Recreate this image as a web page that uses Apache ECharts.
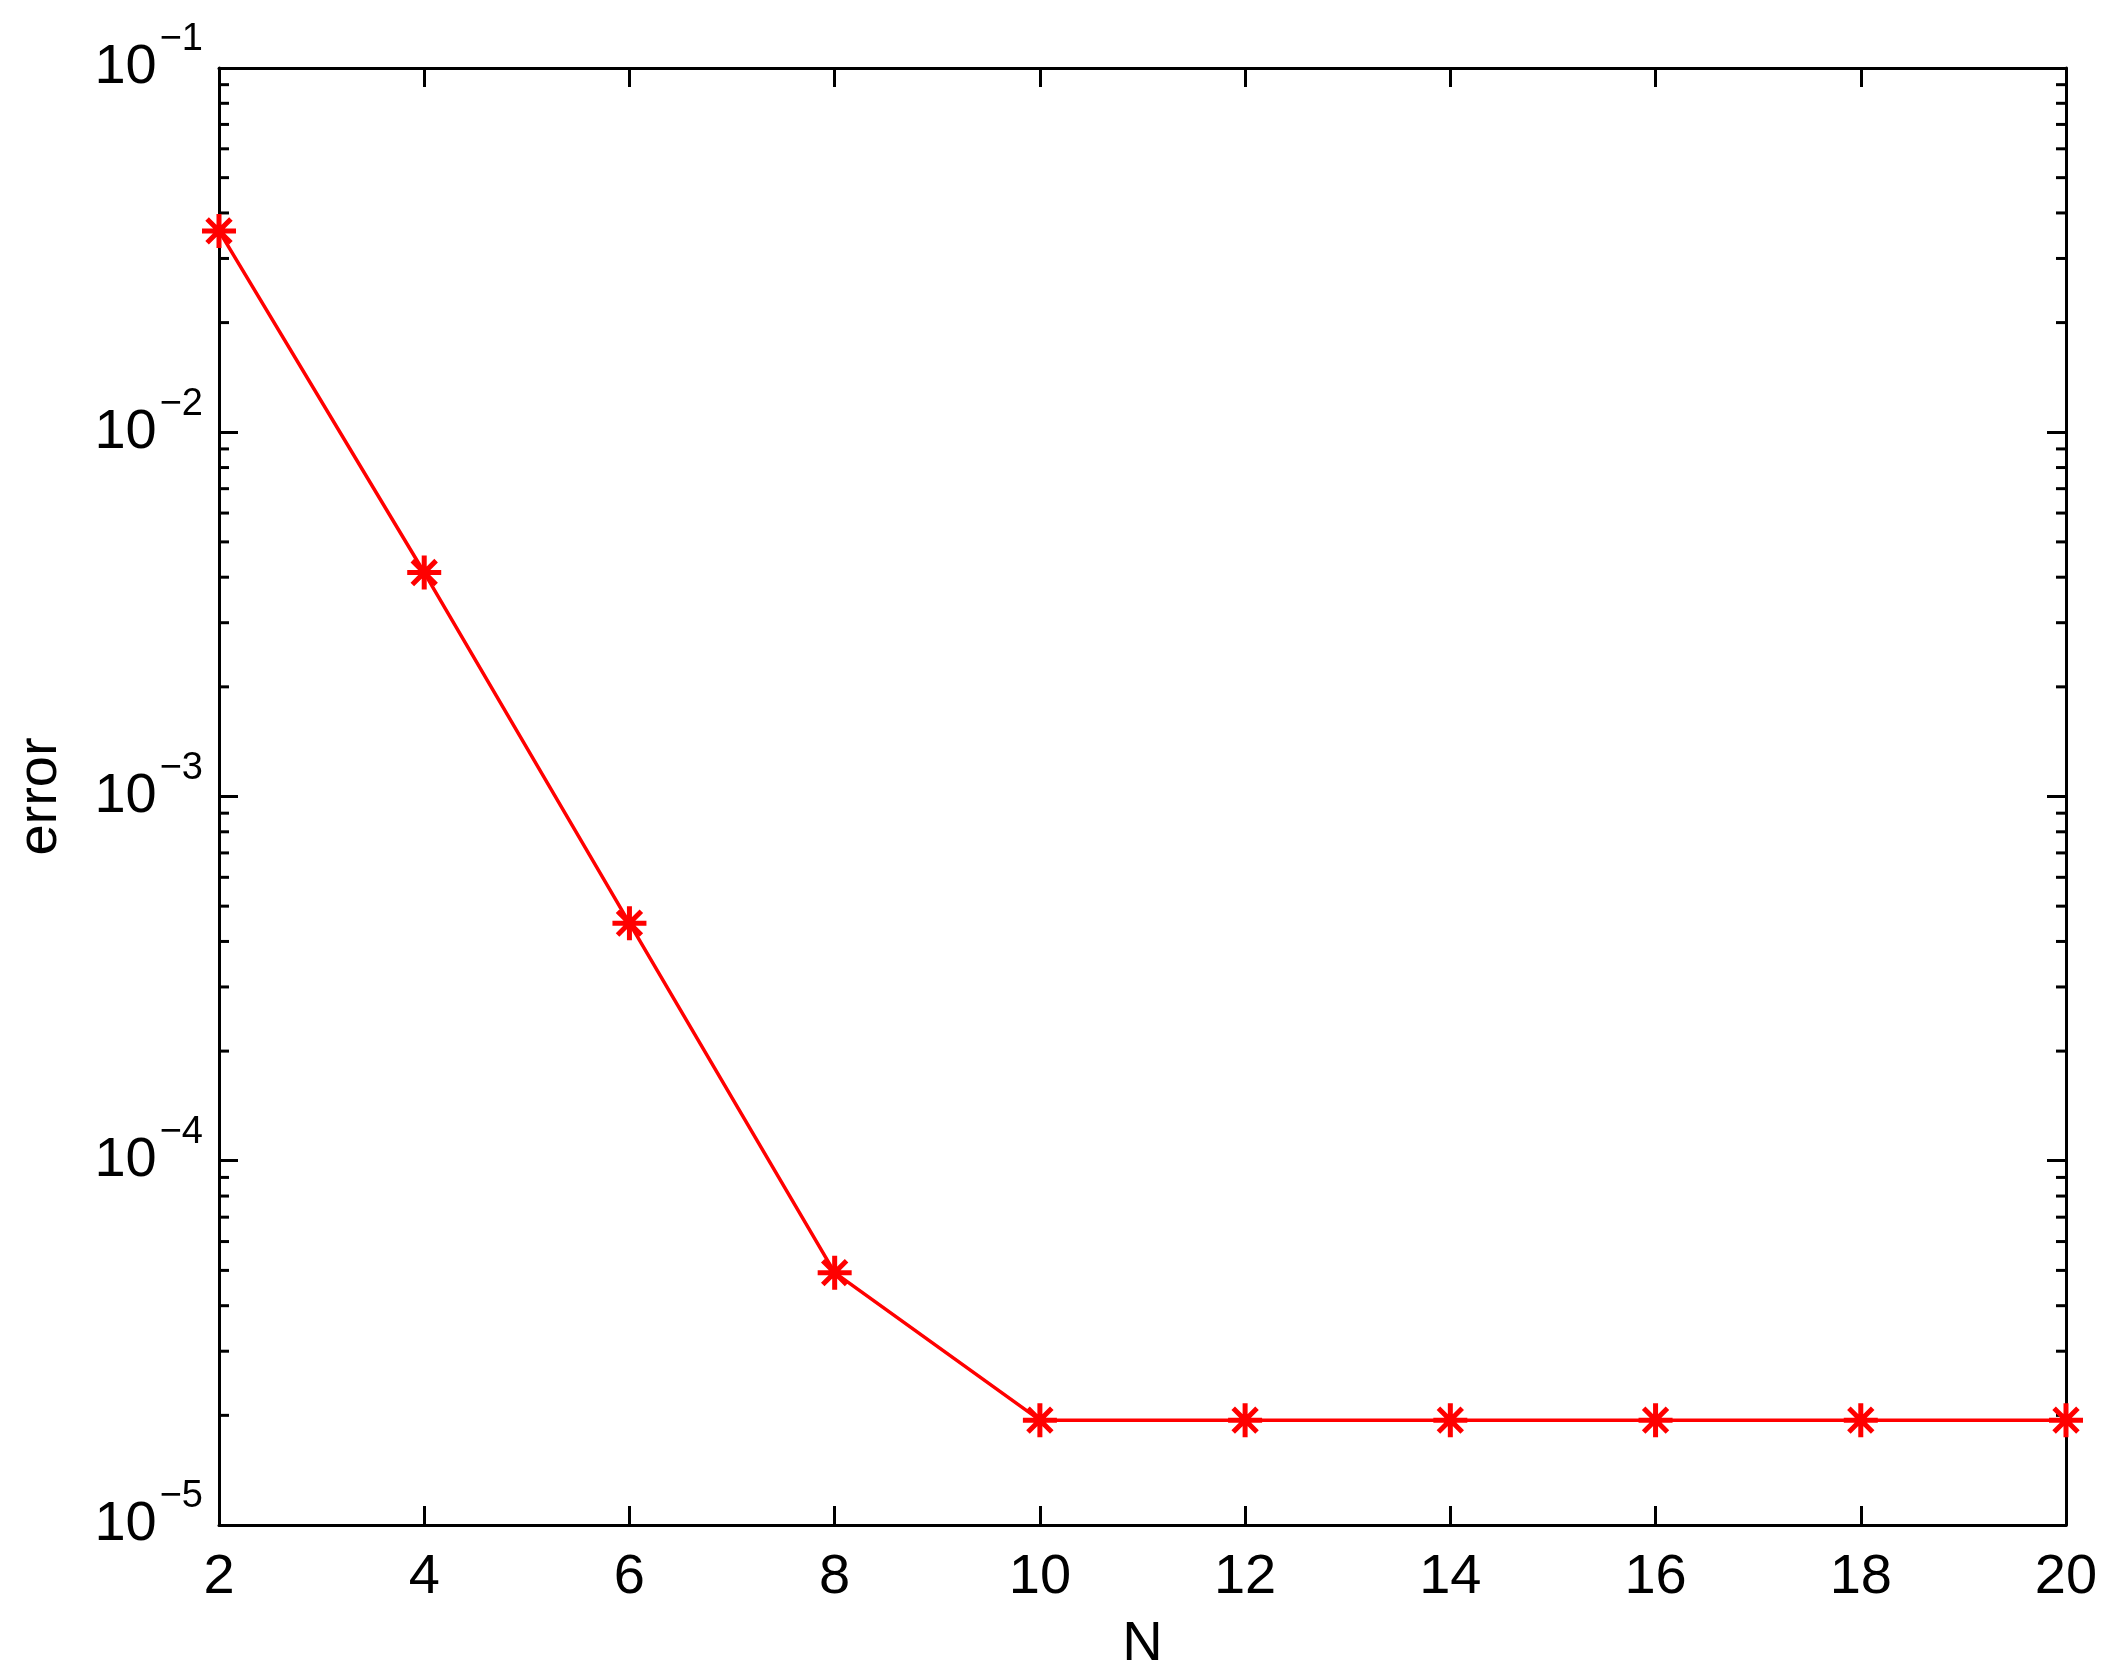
<!DOCTYPE html>
<html>
<head>
<meta charset="utf-8">
<script src="https://cdn.jsdelivr.net/npm/echarts@6/dist/echarts.min.js"></script>
<style>
  html, body { margin: 0; padding: 0; background: #fff; }
  #chart { width: 2116px; height: 1680px; }
</style>
</head>
<body>
<div id="chart"></div>
<script>
// data
const nValues = [2, 4, 6, 8, 10, 12, 14, 16, 18, 20];
const errorValues = [0.0357, 0.00412, 0.000449, 0.0000493, 0.0000194, 0.0000194, 0.0000194, 0.0000194, 0.0000194, 0.0000194];
const xTicks = [2, 4, 6, 8, 10, 12, 14, 16, 18, 20];
const yDecades = [-5, -4, -3, -2, -1];

const xMin = 2, xMax = 20;
const yMin = 1e-5, yMax = 1e-1;

// minor ticks 2..9 inside each decade (like matlab)
const minorTickVals = [];
for (let d = -5; d < -1; d++) {
  for (let k = 2; k <= 9; k++) {
    minorTickVals.push([xMin, k * Math.pow(10, d)]);
  }
}

const FONT = "Liberation Sans, Arial, sans-serif";
const AXIS_W = 3;

const chart = echarts.init(document.getElementById("chart"));

const option = {
  backgroundColor: "#fff",
  animation: false,
  grid: { left: 219, right: 50, top: 68, bottom: 155, containLabel: false },
  xAxis: [
    {
      type: "value",
      min: xMin,
      max: xMax,
      interval: 2,
      name: "N",
      nameLocation: "middle",
      nameGap: 92,
      nameTextStyle: { fontFamily: FONT, fontSize: 56, color: "#000" },
      axisLine: { show: true, lineStyle: { color: "#000", width: AXIS_W } },
      axisTick: { show: true, inside: true, length: 19, lineStyle: { color: "#000", width: AXIS_W } },
      axisLabel: { fontFamily: FONT, fontSize: 56, color: "#000", margin: 25 },
      splitLine: { show: false }
    },
    {
      type: "value",
      position: "top",
      min: xMin,
      max: xMax,
      interval: 2,
      axisLine: { show: true, lineStyle: { color: "#000", width: AXIS_W } },
      axisTick: { show: true, inside: true, length: 19, lineStyle: { color: "#000", width: AXIS_W } },
      axisLabel: { show: false },
      splitLine: { show: false }
    }
  ],
  yAxis: [
    {
      type: "log",
      logBase: 10,
      min: yMin,
      max: yMax,
      name: "error",
      nameLocation: "middle",
      nameGap: 150,
      nameRotate: 90,
      nameTextStyle: { fontFamily: FONT, fontSize: 56, color: "#000" },
      axisLine: { show: true, lineStyle: { color: "#000", width: AXIS_W } },
      axisTick: { show: true, inside: true, length: 19, lineStyle: { color: "#000", width: AXIS_W } },
      axisLabel: {
        margin: 16,
        formatter: function (v) {
          const e = Math.round(Math.log10(v));
          return "{b|10}{s|\u2212" + Math.abs(e) + "}";
        },
        rich: {
          b: { fontFamily: FONT, fontSize: 56, lineHeight: 56, color: "#000" },
          s: { fontFamily: FONT, fontSize: 38, lineHeight: 38, color: "#000", padding: [0, 0, 56, 3] }
        }
      },
      splitLine: { show: false }
    },
    {
      type: "log",
      logBase: 10,
      position: "right",
      min: yMin,
      max: yMax,
      axisLine: { show: true, lineStyle: { color: "#000", width: AXIS_W } },
      axisTick: { show: true, inside: true, length: 19, lineStyle: { color: "#000", width: AXIS_W } },
      axisLabel: { show: false },
      splitLine: { show: false }
    }
  ],
  series: [
    {
      type: "custom",
      silent: true,
      xAxisIndex: 0,
      yAxisIndex: 0,
      clip: false,
      z: 3,
      encode: { x: 0, y: 1 },
      data: minorTickVals,
      renderItem: function (params, api) {
        const v = api.value(1);
        const pL = api.coord([xMin, v]);
        const pR = api.coord([xMax, v]);
        const st = { stroke: "#000", lineWidth: AXIS_W };
        return {
          type: "group",
          children: [
            { type: "line", shape: { x1: pL[0], y1: pL[1], x2: pL[0] + 10, y2: pL[1] }, style: st },
            { type: "line", shape: { x1: pR[0], y1: pR[1], x2: pR[0] - 10, y2: pR[1] }, style: st }
          ]
        };
      }
    },
    {
      type: "line",
      xAxisIndex: 0,
      yAxisIndex: 0,
      data: nValues.map((n, i) => [n, errorValues[i]]),
      clip: false,
      z: 5,
      lineStyle: { color: "#ff0000", width: 3.5 },
      symbol: "path://M0,-1L0,1M-1,0L1,0M-0.7,-0.7L0.7,0.7M-0.7,0.7L0.7,-0.7",
      symbolSize: 34,
      itemStyle: { color: "#ff0000", borderColor: "#ff0000", borderWidth: 5 },
      showSymbol: true
    }
  ]
};

chart.setOption(option);
</script>
</body>
</html>
